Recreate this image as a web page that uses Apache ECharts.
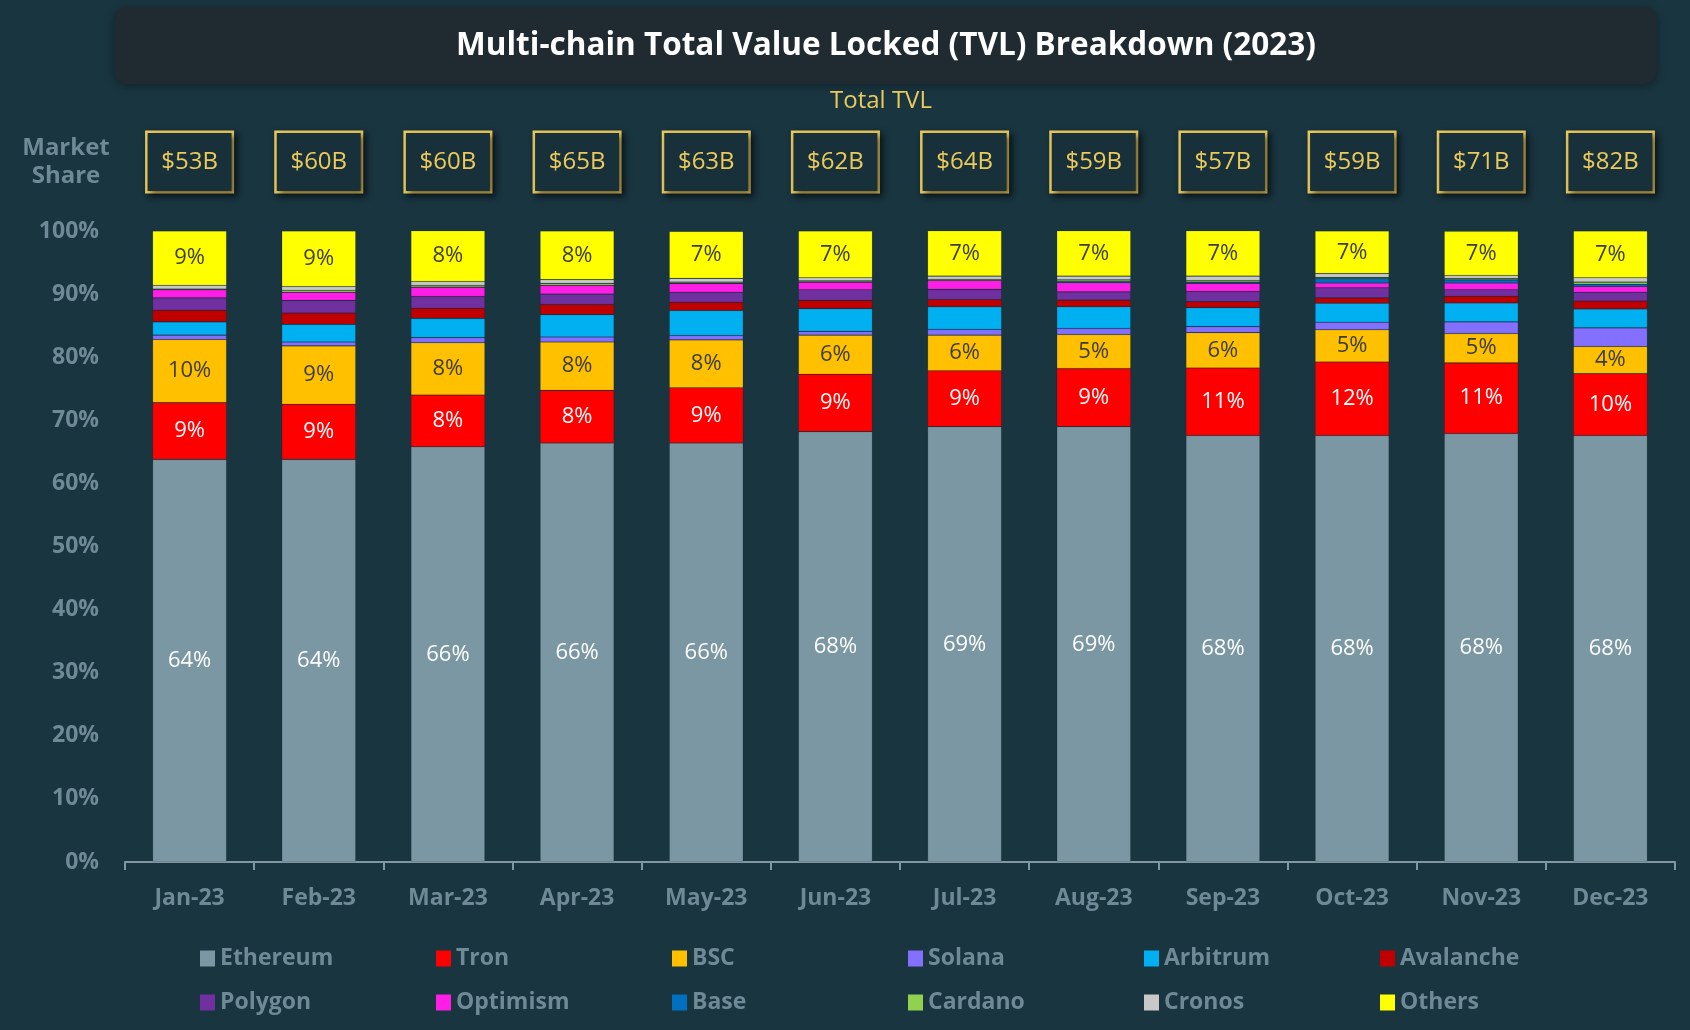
<!DOCTYPE html>
<html><head><meta charset="utf-8">
<script src="https://cdn.jsdelivr.net/npm/echarts@6/dist/echarts.min.js"></script>
<style>html,body{margin:0;padding:0;background:#193540;}#c{width:1690px;height:1030px;}</style>
</head><body><div id="c"></div>
<script>
const categories = ['Jan-23','Feb-23','Mar-23','Apr-23','May-23','Jun-23','Jul-23','Aug-23','Sep-23','Oct-23','Nov-23','Dec-23'];
const totalTVL = ['$53B','$60B','$60B','$65B','$63B','$62B','$64B','$59B','$57B','$59B','$71B','$82B'];
const yTicks = [0,10,20,30,40,50,60,70,80,90,100];
const ethereum  = [63.8,63.8,65.8,66.4,66.4,68.2,69.0,69.0,67.6,67.6,67.9,67.6];
const tron      = [9.0,8.75,8.2,8.35,8.75,9.1,8.85,9.2,10.7,11.65,11.2,9.8];
const bsc       = [10.0,9.25,8.3,7.65,7.6,6.2,5.65,5.4,5.6,5.1,4.65,4.3];
const solana    = [0.7,0.6,0.8,0.8,0.7,0.6,0.9,0.95,0.95,1.2,1.85,2.95];
const arbitrum  = [2.1,2.8,3.05,3.55,3.95,3.6,3.6,3.45,3.0,3.0,3.0,3.0];
const avalanche = [1.85,1.8,1.6,1.6,1.3,1.3,1.15,1.05,0.95,0.85,1.05,1.25];
const polygon   = [1.95,2.0,1.85,1.65,1.6,1.7,1.6,1.3,1.6,1.6,1.05,1.4];
const optimism  = [1.3,1.3,1.5,1.4,1.4,1.2,1.4,1.45,1.3,0.75,1.05,0.9];
const base      = [0,0,0,0,0,0,0,0.2,0.2,0.7,0.5,0.35];
const cardano   = [0.1,0.3,0.3,0.3,0.2,0.2,0.2,0.25,0.25,0.2,0.2,0.35];
const cronos    = [0.6,0.6,0.6,0.6,0.6,0.5,0.5,0.6,0.7,0.6,0.5,0.7];
const others    = [8.6,8.8,8.07,7.7,7.44,7.4,7.2,7.2,7.4,6.75,7.0,7.4];

const seriesDefs = [
  ['Ethereum', ethereum, '#7a97a3', '#ffffff', true],
  ['Tron', tron, '#ff0000', '#ffffff', true],
  ['BSC', bsc, '#ffc000', '#3c3c30', true],
  ['Solana', solana, '#8470ff', '#fff', false],
  ['Arbitrum', arbitrum, '#00b0f0', '#fff', false],
  ['Avalanche', avalanche, '#c00000', '#fff', false],
  ['Polygon', polygon, '#7030a0', '#fff', false],
  ['Optimism', optimism, '#ff1ee6', '#fff', false],
  ['Base', base, '#0070c0', '#fff', false],
  ['Cardano', cardano, '#92d050', '#fff', false],
  ['Cronos', cronos, '#c8c8c8', '#fff', false],
  ['Others', others, '#ffff00', '#3c3c30', true]
];
// legend order: row 1 then row 2
const legendOrder = ['Ethereum','Tron','BSC','Solana','Arbitrum','Avalanche','Polygon','Optimism','Base','Cardano','Cronos','Others'];

const FONT = '"Open Sans", "Noto Sans", sans-serif';
const GRAY = '#6f8a96';
const GOLD = '#ebca5c';

const chart = echarts.init(document.getElementById('c'), null, {renderer: 'canvas'});

const legends = legendOrder.map((name, i) => ({
  data: [name], icon: 'rect', itemWidth: 15, itemHeight: 16, padding: 0,
  left: 200 + (i % 6) * 236, top: i < 6 ? 947 : 991,
  itemStyle: {borderWidth: 0},
  textStyle: {color: GRAY, fontSize: 23, fontWeight: 'bold', fontFamily: FONT}
}));

const option = {
  backgroundColor: '#193540',
  animation: false,
  title: {
    text: 'Multi-chain Total Value Locked (TVL) Breakdown (2023)',
    left: 881, top: 25, textAlign: 'center',
    textStyle: {color: '#ffffff', fontSize: 31.5, fontWeight: 'bold', fontFamily: FONT}
  },
  graphic: [
    {type: 'rect', left: 114, top: 7, z: -1, shape: {width: 1543, height: 77, r: 14},
     style: {fill: '#1f2a31', shadowBlur: 8, shadowColor: 'rgba(0,0,0,0.35)', shadowOffsetY: 2}},
    {type: 'text', x: 881, y: 101, style: {text: 'Total TVL', fill: GOLD, font: '24px ' + FONT, textAlign: 'center', textVerticalAlign: 'middle'}},
    {type: 'text', x: 66, y: 148, style: {text: 'Market', fill: GRAY, font: 'bold 24px ' + FONT, textAlign: 'center', textVerticalAlign: 'middle'}},
    {type: 'text', x: 66, y: 176, style: {text: 'Share', fill: GRAY, font: 'bold 24px ' + FONT, textAlign: 'center', textVerticalAlign: 'middle'}}
  ],
  legend: legends,
  grid: {left: 125, right: 15, top: 231, bottom: 168, containLabel: false},
  xAxis: [
    {
      type: 'category', data: categories, position: 'bottom',
      axisLine: {show: true, lineStyle: {color: '#7f98a3', width: 2}},
      axisTick: {show: true, length: 8, alignWithLabel: false, interval: 0, lineStyle: {color: '#7f98a3', width: 2}},
      axisLabel: {color: GRAY, fontSize: 23, fontWeight: 'bold', fontFamily: FONT, margin: 25, interval: 0},
      splitLine: {show: false}
    },
    {
      type: 'category', data: totalTVL, position: 'top',
      axisLine: {show: false}, axisTick: {show: false}, splitLine: {show: false},
      axisLabel: {
        interval: 0, margin: 69, color: GOLD, fontSize: 24, fontFamily: FONT,
        width: 84, height: 58, lineHeight: 58, align: 'center', verticalAlign: 'middle',
        backgroundColor: '#183039', borderColor: GOLD, borderWidth: 2.5, padding: 0,
        shadowBlur: 6, shadowColor: 'rgba(0,0,0,0.55)', shadowOffsetX: 3, shadowOffsetY: 3
      }
    }
  ],
  yAxis: {
    type: 'value', min: 0, max: 100, interval: 10,
    axisLine: {show: false}, axisTick: {show: false}, splitLine: {show: false},
    axisLabel: {color: GRAY, fontSize: 23, fontWeight: 'bold', fontFamily: FONT, margin: 26,
      formatter: v => yTicks.indexOf(v) >= 0 ? v + '%' : ''}
  },
  series: seriesDefs.map(([name, data, color, labelColor, showLabel]) => ({
    name, type: 'bar', stack: 'total', data, barWidth: 74, xAxisIndex: 0,
    itemStyle: {color, borderColor: 'rgba(0,0,0,0.18)', borderWidth: 0.6},
    label: {
      show: showLabel, position: 'inside', color: labelColor, fontSize: 22, fontFamily: FONT,
      formatter: p => Math.round(p.value) + '%'
    },
    emphasis: {disabled: true}
  }))
};
chart.setOption(option);
</script>
</body></html>
